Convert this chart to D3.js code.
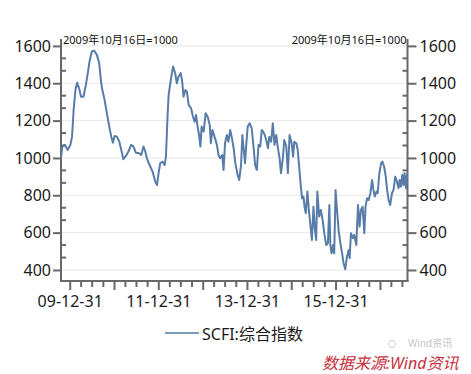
<!DOCTYPE html>
<html><head><meta charset="utf-8">
<script src="https://cdn.jsdelivr.net/npm/d3@7/dist/d3.min.js"></script>
<style>
html,body{margin:0;padding:0;background:#fff;}
svg{display:block;}
</style></head>
<body>
<svg id="chart" width="471" height="374"></svg>
<script>
const seriesName = "SCFI:综合指数";
const baseNote = "2009年10月16日=1000";
const dates = ["2009-10-16","2009-10-27","2009-11-18","2009-12-10","2010-01-01","2010-01-15","2010-01-28","2010-02-12","2010-02-26","2010-03-14","2010-03-30","2010-04-19","2010-05-09","2010-05-25","2010-06-08","2010-06-27","2010-07-16","2010-08-08","2010-08-27","2010-09-09","2010-09-19","2010-10-10","2010-10-29","2010-11-18","2010-12-04","2010-12-18","2011-01-01","2011-01-20","2011-02-09","2011-02-25","2011-03-14","2011-04-04","2011-04-25","2011-05-17","2011-06-06","2011-06-25","2011-07-22","2011-08-08","2011-08-27","2011-09-11","2011-09-24","2011-10-16","2011-11-10","2011-12-02","2011-12-16","2011-12-29","2012-01-12","2012-02-01","2012-02-17","2012-02-28","2012-03-12","2012-03-21","2012-04-04","2012-04-17","2012-04-27","2012-05-14","2012-05-28","2012-06-11","2012-06-29","2012-07-11","2012-07-22","2012-08-06","2012-08-19","2012-09-02","2012-09-22","2012-10-08","2012-10-21","2012-11-02","2012-11-15","2012-11-27","2012-12-08","2012-12-18","2013-01-04","2013-01-20","2013-02-06","2013-02-23","2013-03-04","2013-03-17","2013-04-04","2013-04-23","2013-05-06","2013-05-20","2013-06-06","2013-06-17","2013-06-29","2013-07-14","2013-07-27","2013-08-11","2013-08-25","2013-09-08","2013-09-22","2013-10-11","2013-10-24","2013-11-08","2013-11-19","2013-11-29","2013-12-11","2013-12-21","2014-01-02","2014-01-18","2014-02-04","2014-02-20","2014-03-04","2014-03-18","2014-04-01","2014-04-15","2014-04-28","2014-05-17","2014-06-04","2014-06-18","2014-06-29","2014-07-14","2014-07-28","2014-08-11","2014-08-25","2014-09-06","2014-09-22","2014-10-03","2014-10-19","2014-10-30","2014-11-16","2014-11-29","2014-12-13","2014-12-30","2015-01-11","2015-01-21","2015-02-07","2015-02-18","2015-03-02","2015-03-16","2015-03-26","2015-04-07","2015-04-15","2015-04-26","2015-05-09","2015-05-21","2015-06-01","2015-06-15","2015-06-28","2015-07-09","2015-07-20","2015-07-30","2015-08-14","2015-08-28","2015-09-11","2015-09-27","2015-10-11","2015-10-25","2015-11-06","2015-11-14","2015-11-24","2015-12-06","2015-12-16","2015-12-27","2016-01-08","2016-01-21","2016-02-05","2016-02-19","2016-03-02","2016-03-16","2016-03-30","2016-04-13","2016-04-21","2016-05-02","2016-05-18","2016-05-29","2016-06-15","2016-06-29","2016-07-12","2016-07-23","2016-08-06","2016-08-20","2016-08-30","2016-09-12","2016-09-25","2016-10-09","2016-10-23","2016-11-03","2016-11-14","2016-11-28","2016-12-08","2016-12-22","2017-01-06","2017-01-16","2017-01-30","2017-02-13","2017-02-24","2017-03-08","2017-03-21","2017-04-05","2017-04-18","2017-05-02","2017-05-16","2017-05-29","2017-06-07","2017-06-18","2017-06-29","2017-07-09","2017-07-17","2017-07-29","2017-08-07"];
const values = [1000,1060,1070,1043,1070,1114,1257,1364,1403,1373,1328,1328,1391,1454,1516,1570,1575,1552,1507,1420,1373,1311,1240,1168,1114,1082,1118,1114,1087,1043,993,1011,1034,1070,1061,1028,1025,1016,1061,1034,998,962,927,873,855,918,972,980,962,1007,1221,1337,1400,1454,1490,1454,1400,1436,1454,1409,1328,1364,1355,1284,1266,1221,1194,1230,1168,1123,1061,1168,1141,1239,1221,1177,1079,1150,1114,1070,1016,998,1016,936,1079,1123,1087,1150,1105,1052,972,909,882,962,1123,1052,972,1070,1168,1186,1159,1052,962,936,1070,1061,1150,1132,1096,1052,1114,1087,1186,1070,1123,1061,998,918,1000,1096,1061,918,1123,1079,1007,1087,1079,1043,954,846,784,793,739,704,820,721,650,561,739,623,561,820,686,721,668,588,534,543,748,534,489,534,489,829,721,614,543,489,436,404,471,507,463,597,570,588,534,748,632,721,739,597,739,784,775,811,882,829,793,820,811,918,972,980,954,900,829,775,748,811,829,900,873,838,882,846,909,855,918,838,918];
const xDomain = ["2009-10-16","2017-08-11"];
const yDomain = [341, 1637];
const yMajorTicks = [400,600,800,1000,1200,1400,1600];
const xLabelDates = ["2009-12-31","2011-12-31","2013-12-31","2015-12-31"];
const xLabels = ["09-12-31","11-12-31","13-12-31","15-12-31"];

const parse = d3.timeParse("%Y-%m-%d");
const data = dates.map((d,i)=>({date: parse(d), value: values[i]}));

const L = 61, R = 407.5, T = 39, B = 281;
const svg = d3.select("#chart");
const x = d3.scaleTime().domain(xDomain.map(parse)).range([L, R]);
const y = d3.scaleLinear().domain(yDomain).range([B, T]);

const font = "'Noto Sans','Noto Sans CJK SC',sans-serif";
const axisColor = "#686868";

// gridlines
svg.append("g").selectAll("line").data(yMajorTicks).join("line")
  .attr("x1", L).attr("x2", R)
  .attr("y1", d=>y(d)).attr("y2", d=>y(d))
  .attr("stroke", "#e8e8e8").attr("stroke-width", 1);

// minor y ticks (1/3 steps)
const yMinor = [];
for (let i = 0; i < yMajorTicks.length; i++) {
  const a = yMajorTicks[i];
  [a - 200/3, a - 400/3].forEach(v => { if (v > yDomain[0] && v < yDomain[1]) yMinor.push(v); });
}
const yMinorIn = yMinor.filter(v => v > yDomain[0] && v < yDomain[1]);

function styleAxis(g){
  g.select(".domain").remove();
  g.selectAll(".tick line").attr("stroke", axisColor).attr("stroke-width", 2);
  g.selectAll(".tick text").attr("font-family", font).attr("font-size", 16).attr("fill", "#1a1a1a");
}

// Left axis
const gL = svg.append("g").attr("transform", `translate(${L},0)`)
  .call(d3.axisLeft(y).tickValues(yMajorTicks).tickSize(8).tickPadding(2).tickFormat(d3.format("d")));
styleAxis(gL);
svg.append("g").selectAll("line").data(yMinorIn).join("line")
  .attr("x1", L).attr("x2", L + 5).attr("y1", d=>y(d)).attr("y2", d=>y(d))
  .attr("stroke", axisColor).attr("stroke-width", 2);

// Right axis
const gR = svg.append("g").attr("transform", `translate(${R},0)`)
  .call(d3.axisRight(y).tickValues(yMajorTicks).tickSize(9).tickPadding(3).tickFormat(d3.format("d")));
styleAxis(gR);
svg.append("g").selectAll("line").data(yMinorIn).join("line")
  .attr("x1", R - 5).attr("x2", R).attr("y1", d=>y(d)).attr("y2", d=>y(d))
  .attr("stroke", axisColor).attr("stroke-width", 2);

// axis lines
svg.append("line").attr("x1", L).attr("x2", L).attr("y1", T).attr("y2", B+1)
  .attr("stroke", axisColor).attr("stroke-width", 2);
svg.append("line").attr("x1", R).attr("x2", R).attr("y1", T).attr("y2", B+1)
  .attr("stroke", axisColor).attr("stroke-width", 2);
svg.append("line").attr("x1", L-1).attr("x2", R+1).attr("y1", B).attr("y2", B)
  .attr("stroke", axisColor).attr("stroke-width", 2);

// x ticks: quarter ends
const qTicks = d3.timeMonth.every(3).range(x.domain()[0], x.domain()[1])
  .map(d => d3.timeDay.offset(d, -1))
  .filter(d => d >= x.domain()[0] && d <= x.domain()[1] && d.getMonth() % 3 === 2);
svg.append("g").selectAll("line").data(qTicks).join("line")
  .attr("x1", d=>x(d)).attr("x2", d=>x(d))
  .attr("y1", B).attr("y2", d => d.getMonth() === 11 ? B + 9 : B + 6)
  .attr("stroke", axisColor).attr("stroke-width", 2);

svg.append("g").selectAll("text").data(xLabelDates).join("text")
  .attr("x", d=>x(parse(d))).attr("y", 307)
  .attr("text-anchor", "middle")
  .attr("font-family", font).attr("font-size", 16).attr("fill", "#1a1a1a")
  .text((d,i)=>xLabels[i]);

// series line
const line = d3.line().x(d=>x(d.date)).y(d=>y(d.value)).curve(d3.curveLinear);
svg.append("path").datum(data).attr("d", line)
  .attr("fill", "none").attr("stroke", "#587ca8").attr("stroke-width", 2)
  .attr("stroke-linejoin", "round");

// base notes
svg.append("text").attr("x", L + 2).attr("y", 43.5)
  .attr("font-family", font).attr("font-size", 11).attr("fill", "#111").text(baseNote);
svg.append("text").attr("x", R - 1).attr("y", 43.5).attr("text-anchor", "end")
  .attr("font-family", font).attr("font-size", 11).attr("fill", "#111").text(baseNote);

// legend
svg.append("line").attr("x1", 165).attr("x2", 199).attr("y1", 333).attr("y2", 333)
  .attr("stroke", "#7d9bb8").attr("stroke-width", 2);
svg.append("text").attr("x", 202).attr("y", 340)
  .attr("font-family", font).attr("font-size", 16).attr("fill", "#1a1a1a").text(seriesName);

// watermark
svg.append("text").attr("x", 408).attr("y", 347)
  .attr("font-family", font).attr("font-size", 10).attr("fill", "#c4c4c4").text("Wind资讯");
svg.append("circle").attr("cx", 392).attr("cy", 344).attr("r", 3.5)
  .attr("fill", "none").attr("stroke", "#cccccc").attr("stroke-width", 1);
svg.append("text").attr("x", 322).attr("y", 369)
  .attr("font-family", font).attr("font-size", 16).attr("font-style", "italic")
  .attr("fill", "#c6303e").text("数据来源:Wind资讯");
</script>
</body></html>
